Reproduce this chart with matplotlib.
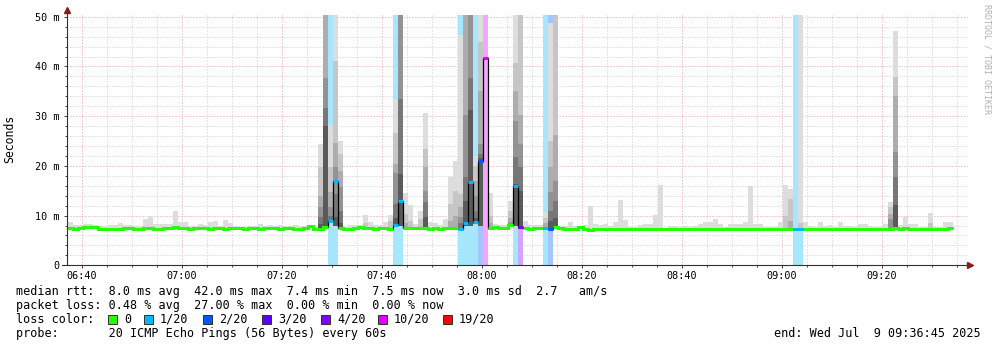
import matplotlib
matplotlib.use("Agg")
import matplotlib.pyplot as plt
import numpy as np
from matplotlib.patches import Rectangle

W, H = 997, 347
plt.rcParams['font.family'] = ['DejaVu Sans Mono']

# one sample per minute, x in minutes after 06:40; first sample partly clipped
first_edge = -3.8

median_ms = [
    7.5, 7.5, 7.3, 7.5, 7.7, 7.7, 7.7, 7.4, 7.4, 7.4,
    7.4, 7.4, 7.6, 7.6, 7.3, 7.3, 7.5, 7.5, 7.3, 7.3,
    7.5, 7.5, 7.7, 7.5, 7.5, 7.4, 7.5, 7.5, 7.5, 7.3,
    7.5, 7.5, 7.4, 7.5, 7.5, 7.5, 7.4, 7.5, 7.5, 7.4,
    7.5, 7.5, 7.5, 7.4, 7.5, 7.5, 7.3, 7.3, 7.5, 7.9,
    7.3, 7.4, 7.8, 8.9, 16.9, 7.6, 7.3, 7.3, 7.5, 7.7,
    7.5, 7.5, 7.4, 7.5, 7.5, 7.4, 8.2, 12.9, 7.6, 7.5,
    7.5, 7.5, 7.6, 7.4, 7.5, 7.4, 7.5, 7.5, 7.5, 7.4,
    8.6, 16.7, 8.7, 20.9, 41.7, 7.5, 7.8, 7.5, 7.5, 8.2,
    15.9, 7.7, 7.5, 7.4, 7.5, 7.5, 7.5, 7.4, 7.7, 7.5,
    7.4, 7.4, 7.3, 7.7, 7.4, 7.2, 7.4, 7.4, 7.3, 7.4,
    7.4, 7.3, 7.4, 7.4, 7.3, 7.4, 7.4, 7.4, 7.4, 7.4,
    7.3, 7.4, 7.4, 7.4, 7.3, 7.4, 7.4, 7.4, 7.4, 7.3,
    7.4, 7.4, 7.4, 7.4, 7.4, 7.4, 7.4, 7.4, 7.4, 7.3,
    7.4, 7.4, 7.4, 7.4, 7.4, 7.4, 7.4, 7.3, 7.4, 7.4,
    7.3, 7.4, 7.4, 7.3, 7.4, 7.4, 7.4, 7.3, 7.4, 7.4,
    7.3, 7.4, 7.4, 7.3, 7.4, 7.4, 7.6, 7.3, 7.5, 7.4,
    7.3, 7.4, 7.3, 7.4, 7.3, 7.4, 7.4, 7.5,
]

# top of the outer (lightest) smoke band
smoke_max_ms = [
    8.8, 8.8, 8.2, 8.2, 8.4, 8.4, 8.1, 7.9, 7.9, 8.1,
    8.1, 8.6, 8.2, 8.2, 7.9, 7.9, 9.4, 9.9, 8.3, 8.3,
    8.4, 8.4, 11.0, 8.8, 8.8, 7.9, 7.9, 8.3, 8.1, 8.7,
    9.0, 7.9, 9.2, 8.5, 8.0, 7.8, 7.8, 7.9, 7.9, 8.3,
    7.9, 8.1, 7.9, 8.1, 7.9, 7.9, 8.1, 7.9, 7.9, 8.1,
    7.9, 24.5, 60, 28.3, 60, 25.1, 7.8, 8.2, 8.2, 8.2,
    10.2, 8.7, 8.2, 8.2, 8.7, 10.2, 33.5, 60, 14.5, 12.2,
    8.4, 11.0, 30.7, 8.8, 8.5, 8.2, 9.3, 17.7, 21.0, 46.3,
    60, 60, 22.0, 60, 41.7, 14.5, 8.3, 8.2, 8.2, 13.0,
    60, 60, 8.9, 8.2, 8.2, 8.1, 10.8, 48.7, 60, 8.0,
    8.0, 8.7, 8.0, 7.8, 8.2, 12.0, 8.3, 8.2, 8.3, 8.0,
    8.8, 13.1, 9.1, 7.8, 7.8, 8.2, 8.3, 8.3, 10.2, 16.2,
    7.5, 8.0, 8.0, 7.8, 8.0, 7.8, 8.0, 8.3, 8.7, 8.7,
    9.3, 8.3, 7.8, 8.3, 8.3, 8.3, 8.8, 16.0, 8.3, 8.3,
    7.8, 7.8, 7.8, 8.8, 16.2, 15.3, 7.4, 60, 8.7, 8.0,
    7.8, 8.8, 8.0, 8.2, 7.8, 8.8, 8.0, 8.0, 7.8, 8.3,
    8.3, 8.0, 7.8, 7.8, 8.3, 12.8, 47.2, 8.2, 9.7, 8.3,
    8.3, 7.8, 7.8, 10.5, 7.8, 7.8, 8.7, 8.7,
]

# inner smoke bands (light -> dark) for the samples that show them
layer_idx = [51, 52, 53, 54, 55, 60, 65, 66, 67, 68, 69, 71, 72, 77, 78, 79,
             80, 81, 82, 83, 85, 89, 90, 91, 96, 97, 98, 144, 145, 147, 165,
             166, 173]
layer_tops = [
    [19.7, 14.0, 11.7, 9.7, 8.4],
    [60, 60, 37.7, 31.7, 28.0],
    [19.7, 14.7, 11.7, 10.0, 9.2],
    [41.0, 24.7, 19.7, 14.3, 9.7],
    [22.3, 19.0, 15.7, 11.0, 8.5],
    [8.6],
    [9.0],
    [26.7, 20.3, 18.5, 12.3, 9.5],
    [60, 60, 60, 33.5, 18.3],
    [10.3, 8.6],
    [9.0],
    [9.3],
    [23.4, 19.7, 15.0, 12.7, 9.8],
    [12.3, 9.0],
    [15.0, 10.0],
    [14.3, 11.7, 9.7, 8.5],
    [60, 60, 30.3, 17.7, 13.0],
    [60, 60, 60, 37.7, 31.3],
    [20.0, 17.0, 14.0, 11.0, 9.5],
    [45.0, 35.0, 24.3, 22.3, 21.5],
    [10.0, 8.5],
    [11.0, 9.5, 8.8],
    [40.7, 35.0, 29.0, 21.7, 16.3],
    [60, 30.3, 24.3, 19.7, 15.0],
    [9.5, 8.5],
    [25.0, 19.7, 14.7, 11.0, 9.0],
    [60, 26.3, 17.0, 13.0, 9.5],
    [10.0],
    [13.3, 9.0],
    [8.6],
    [11.7, 10.3, 9.3],
    [37.8, 34.0, 22.7, 17.7, 12.2],
    [8.6],
]

# samples whose fastest ping lies well below the median
low_idx = [54, 67, 80, 81, 83, 90]
low_ms = [8.0, 8.0, 8.0, 8.0, 8.0, 8.0]

# lost pings (out of 20) per sample
loss_idx = [53, 54, 66, 67, 79, 80, 81, 82, 83, 84, 90, 91, 96, 97, 146, 147]
loss_n = [1, 1, 1, 1, 1, 1, 1, 1, 2, 8, 1, 4, 1, 2, 1, 1]

legend_labels = ["0", "1/20", "2/20", "3/20", "4/20", "10/20", "19/20"]
legend_colors = ["#26ff00", "#00b8ff", "#0059ff", "#5e00ff", "#7e00ff", "#dd00ff", "#ff0000"]
legend_limits = [0, 1, 2, 3, 4, 10, 19]

tick_labels = ["06:40", "07:00", "07:20", "07:40", "08:00", "08:20", "08:40", "09:00", "09:20"]

smoke_cols = ["#dddddd", "#c6c6c6", "#adadad", "#939393", "#777777", "#5a5a5a"]


def loss_color(n):
    for lim, c in zip(legend_limits, legend_colors):
        if n <= lim:
            return c
    return legend_colors[-1]


def light(c, a=0.35):
    rgb = np.array(matplotlib.colors.to_rgb(c))
    return tuple(a * rgb + (1 - a))


n = len(median_ms)
med = np.array(median_ms)
edges = first_edge + np.arange(n + 1)
left = edges[:-1]
loss = np.zeros(n, dtype=int)
loss[loss_idx] = loss_n
bottom = med - 0.35
bottom[low_idx] = low_ms

fig = plt.figure(figsize=(W / 100, H / 100), dpi=100)
ax = fig.add_axes([67 / W, 1 - 265.3 / H, 901 / W, 250.3 / H])
ax.set_xlim(-3, 177.2)
ax.set_ylim(0, 50.35)

# loss background
for i, k in zip(loss_idx, loss_n):
    ax.bar(left[i], 60, width=1, bottom=0, align='edge', color=light(loss_color(k)),
           linewidth=0, zorder=1)

# smoke
ax.bar(left, np.array(smoke_max_ms) - bottom, width=1, bottom=bottom, align='edge',
       color=smoke_cols[0], linewidth=0, zorder=1.1)
for i, tops in zip(layer_idx, layer_tops):
    for j, t in enumerate(tops):
        ax.bar(left[i], t - bottom[i], width=1, bottom=bottom[i], align='edge',
               color=smoke_cols[j + 1], linewidth=0, zorder=1.2 + 0.01 * j)

# median line
ax.stairs(med, edges, baseline=None, color='black', linewidth=0.9, zorder=3)
run = []
for i in range(n + 1):
    if i < n and loss[i] == 0:
        run.append(i)
    elif run:
        a, b = run[0], run[-1] + 1
        ax.stairs(med[a:b], edges[a:b + 1], baseline=None, color=legend_colors[0],
                  linewidth=2.2, zorder=4)
        run = []
for i, k in zip(loss_idx, loss_n):
    ax.hlines(med[i], edges[i], edges[i + 1], color=loss_color(k), linewidth=2.2, zorder=4)

# axes, grid
ax.set_xticks(np.arange(0, 161, 20))
ax.set_xticklabels(tick_labels)
ax.set_xticks(np.arange(0, 178, 5), minor=True)
ax.set_yticks(np.arange(0, 51, 10))
ax.set_yticklabels(["0"] + [f"{v} m" for v in range(10, 51, 10)])
ax.set_yticks(np.arange(0, 51, 2), minor=True)
ax.set_axisbelow(True)
ax.grid(which='minor', color='#cccccc', linestyle=(0, (1, 2)), linewidth=0.72)
ax.grid(which='major', color='#e8a0a0', linestyle=(0, (1, 2)), linewidth=0.72)
ax.tick_params(which='both', labelsize=7.3, colors='#404040', labelcolor='black',
               width=0.7, direction='out')
ax.tick_params(which='major', length=2.2, pad=2.2)
ax.tick_params(which='minor', length=1.4)
ax.tick_params(axis='y', which='major', pad=3)
for s in ax.spines.values():
    s.set_visible(False)

ax.plot([-4, 177.6], [0, 0], color='#303030', lw=0.8, clip_on=False, zorder=5)
ax.plot([-3, -3], [0, 51.2], color='#303030', lw=0.8, clip_on=False, zorder=5)
ax.plot([-3], [51.3], marker='^', color='#8b1a1a', markersize=4, clip_on=False, zorder=6)
ax.plot([177.6], [0], marker='>', color='#8b1a1a', markersize=4, clip_on=False, zorder=6)

fig.text(10 / W, 1 - 139 / H, "Seconds", rotation=90, ha='center', va='center', fontsize=8.3)
fig.text(987 / W, 1 - 4 / H, "RRDTOOL / TOBI OETIKER", rotation=270, ha='center', va='top',
         fontsize=6, color='#b0b0b0')

# legend / statistics
fs = 8.5
fig.text(16 / W, 1 - 295 / H,
         "median rtt:  8.0 ms avg  42.0 ms max  7.4 ms min  7.5 ms now  3.0 ms sd  2.7   am/s",
         fontsize=fs, va='baseline')
fig.text(16 / W, 1 - 309 / H,
         "packet loss: 0.48 % avg  27.00 % max  0.00 % min  0.00 % now",
         fontsize=fs, va='baseline')
fig.text(16 / W, 1 - 323 / H, "loss color:", fontsize=fs, va='baseline')
fig.text(16 / W, 1 - 337 / H, "probe:       20 ICMP Echo Pings (56 Bytes) every 60s",
         fontsize=fs, va='baseline')
fig.text(981 / W, 1 - 337 / H, "end: Wed Jul  9 09:36:45 2025", fontsize=fs,
         va='baseline', ha='right')

sw_x = [108, 144, 203, 262, 321, 378, 443]
for x, lab, c in zip(sw_x, legend_labels, legend_colors):
    fig.patches.append(Rectangle((x / W, 1 - 324 / H), 9 / W, 9 / H, transform=fig.transFigure,
                                 facecolor=c, edgecolor='#303030', linewidth=0.7))
    fig.text((x + 16) / W, 1 - 323 / H, lab, fontsize=fs, va='baseline')

fig.savefig("out.png", dpi=100, facecolor='white')
